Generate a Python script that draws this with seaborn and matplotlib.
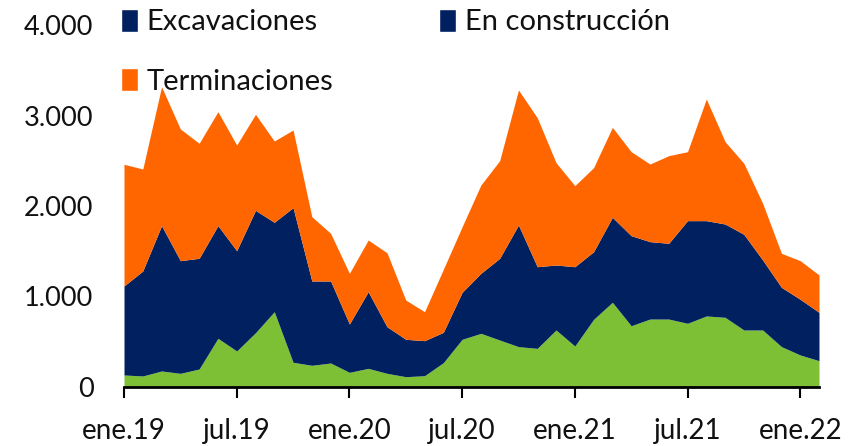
import numpy as np
import pandas as pd
import matplotlib
matplotlib.use("Agg")
import matplotlib.pyplot as plt
import seaborn as sns
from matplotlib.patches import Patch

tick_labels = ["ene.19", "jul.19", "ene.20", "jul.20", "ene.21", "jul.21", "ene.22"]
months = pd.date_range("2019-01-01", "2022-02-01", freq="MS")

excavaciones = [133, 122, 177, 151, 199, 538, 398, 600, 832, 273, 240, 265, 162, 206, 151,
                114, 125, 269, 527, 593, 519, 446, 427, 630, 453, 748, 936, 677, 751, 751,
                704, 785, 770, 630, 630, 446, 354, 291]
construccion = [983, 1160, 1606, 1245, 1223, 1245, 1108, 1352, 988, 1709, 931, 906, 534, 847, 515,
                413, 387, 335, 519, 663, 903, 1344, 902, 718, 876, 747, 939, 995, 855, 837,
                1134, 1053, 1031, 1057, 773, 655, 615, 534]
terminaciones = [1345, 1127, 1535, 1455, 1271, 1259, 1168, 1061, 898, 858, 711, 527, 560, 571, 818,
                 434, 320, 696, 725, 976, 1079, 1492, 1647, 1131, 896, 929, 994, 928, 858, 968,
                 762, 1344, 910, 785, 627, 376, 427, 413]

series_names = ["Excavaciones", "En construcción", "Terminaciones"]
area_colors = ["#7DC035", "#002060", "#FF6600"]
legend_colors = ["#002060", "#002060", "#FF6600"]

df = pd.DataFrame({"mes": months, "Excavaciones": excavaciones,
                   "En construcción": construccion, "Terminaciones": terminaciones})

sns.set_theme(style="white")
plt.rcParams["font.family"] = ["Lato", "DejaVu Sans"]

fig = plt.figure(figsize=(8.61, 4.46), dpi=100)
ax = fig.add_axes([124 / 861, 1 - 387 / 446, (819 - 124) / 861, (387 - 25) / 446])

xpos = np.arange(len(df))
ax.stackplot(xpos, df["Excavaciones"], df["En construcción"], df["Terminaciones"],
             colors=area_colors, linewidth=0)

ax.set_xlim(0, len(df) - 1)
ax.set_ylim(0, 4000)
ax.set_xticks(np.arange(0, len(df), 6))
ax.set_xticklabels(tick_labels)
ax.set_yticks([0, 1000, 2000, 3000, 4000])
ax.set_yticklabels(["0", "1.000", "2.000", "3.000", "4.000"])

for s in ["top", "right", "left"]:
    ax.spines[s].set_visible(False)
ax.spines["bottom"].set_color("black")
ax.spines["bottom"].set_linewidth(2)
ax.spines["bottom"].set_zorder(5)
ax.tick_params(axis="x", direction="out", length=8, width=1.5, color="black",
               labelsize=20, pad=14, bottom=True)
ax.tick_params(axis="y", length=0, labelsize=19.5, pad=22)
for lbl in ax.get_xticklabels() + ax.get_yticklabels():
    lbl.set_color("#111111")

handles = [Patch(facecolor=legend_colors[0], label=series_names[0]),
           Patch(facecolor=legend_colors[2], label=series_names[2]),
           Patch(facecolor=legend_colors[1], label=series_names[1])]
leg = fig.legend(handles=handles, loc="upper left", bbox_to_anchor=(103 / 861, 1.02), ncol=2,
                 frameon=False, fontsize=21, handlelength=0.6, handleheight=0.85,
                 handletextpad=0.3, columnspacing=3.6, labelspacing=1.12, borderaxespad=0.2)
for t in leg.get_texts():
    t.set_color("#111111")

fig.savefig("out.png", dpi=100)
